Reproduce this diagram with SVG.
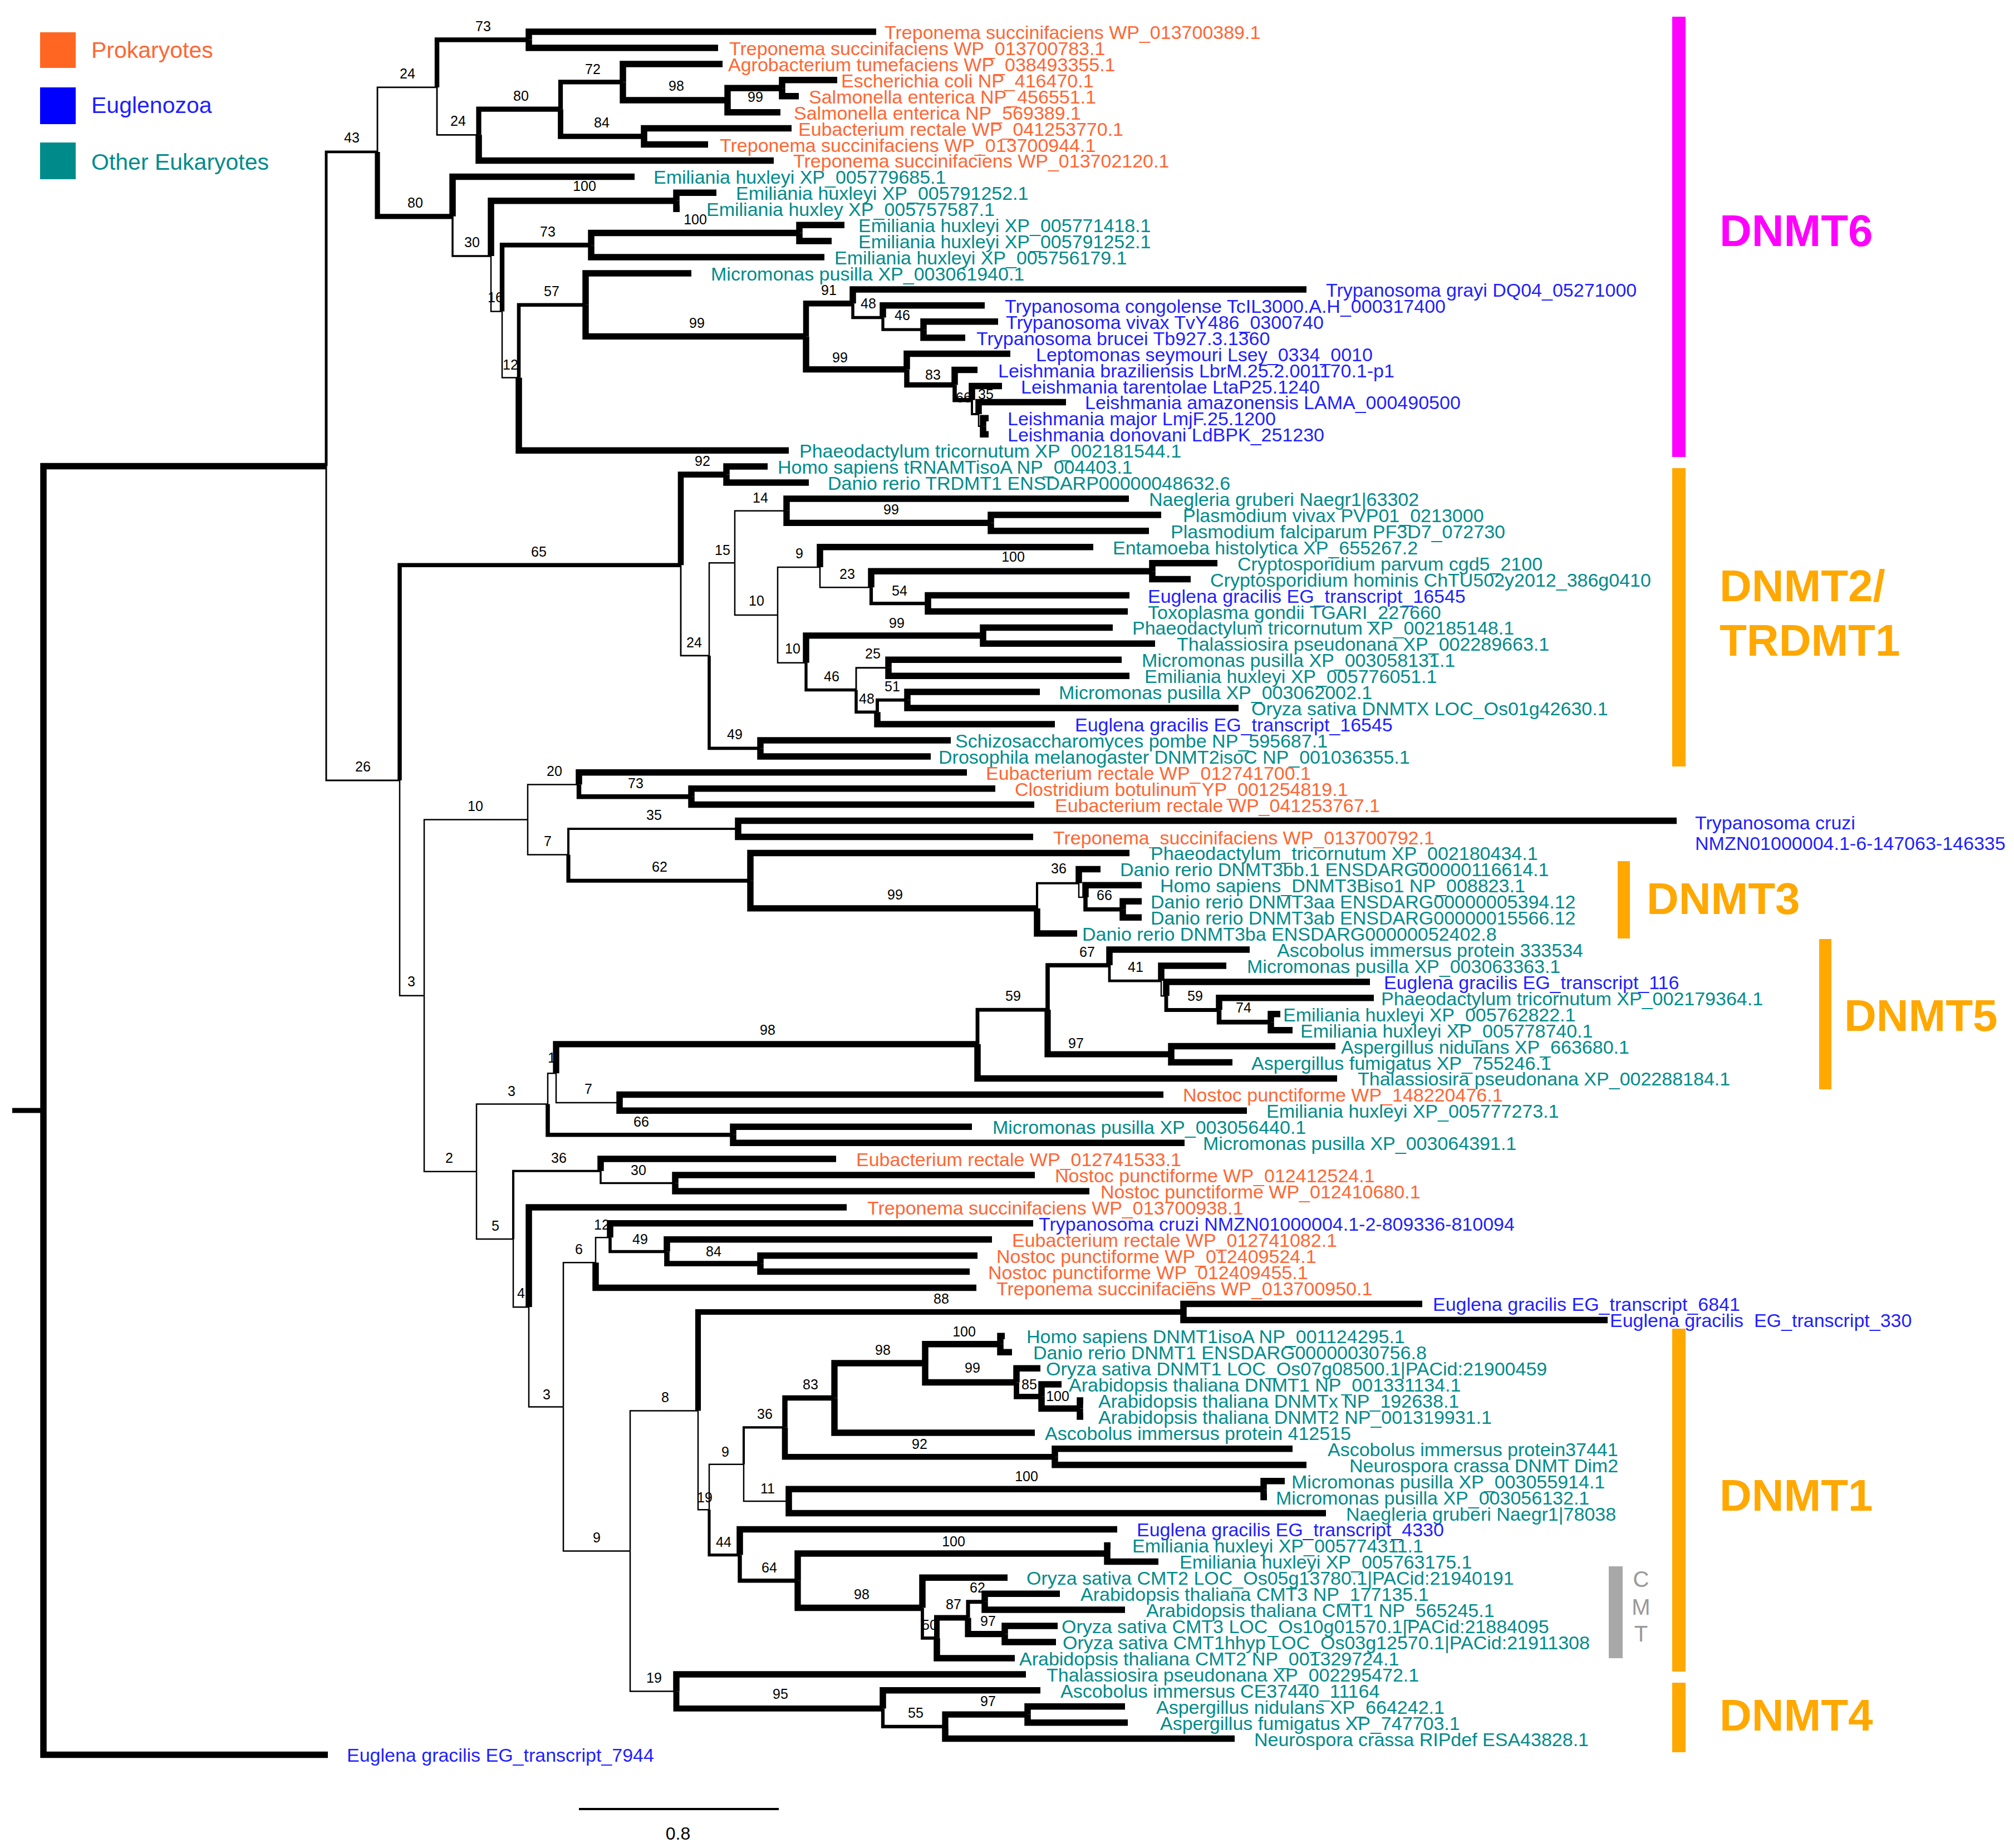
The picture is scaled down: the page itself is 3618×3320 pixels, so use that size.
<svg xmlns="http://www.w3.org/2000/svg" width="3618" height="3320" viewBox="0 0 3618 3320">
<style>
.br{fill:none;stroke:#000;stroke-linejoin:miter}
.t{stroke-width:11.5}
text{font-family:"Liberation Sans",Arial,sans-serif}
.lf{font-size:34px}
.o{fill:#FF6633}.b{fill:#1F1FFF}.e{fill:#008B8B}
.bs{font-size:25px;text-anchor:middle;fill:#000}
.cl{font-size:80px;font-weight:bold}
.lg{font-size:41px}
</style>
<rect width="3618" height="3320" fill="#fff"/>
<g id="legend">
<rect x="72" y="58" width="64" height="64" fill="#FF6622"/>
<rect x="72" y="157" width="64" height="66" fill="#0000FF"/>
<rect x="72" y="256" width="64" height="66" fill="#008B8B"/>
<text class="lg o" x="164" y="104">Prokaryotes</text>
<text class="lg b" x="164" y="203">Euglenozoa</text>
<text class="lg e" x="164" y="305">Other Eukaryotes</text>
</g>
<g id="clades">
<rect x="3004" y="30" width="24" height="791" fill="#FF00FF"/>
<text class="cl" x="3089" y="442" fill="#FF00FF">DNMT6</text>
<rect x="3004" y="841" width="24" height="536" fill="#FFA800"/>
<text class="cl" x="3089" y="1080" fill="#FFA800">DNMT2/</text>
<text class="cl" x="3089" y="1178" fill="#FFA800">TRDMT1</text>
<rect x="2906" y="1547" width="22" height="139" fill="#FFA800"/>
<text class="cl" x="2958" y="1642" fill="#FFA800">DNMT3</text>
<rect x="3268" y="1687" width="22" height="270" fill="#FFA800"/>
<text class="cl" x="3313" y="1852" fill="#FFA800">DNMT5</text>
<rect x="3004" y="2387" width="24" height="616" fill="#FFA800"/>
<text class="cl" x="3089" y="2714" fill="#FFA800">DNMT1</text>
<rect x="3004" y="3023" width="24" height="125" fill="#FFA800"/>
<text class="cl" x="3089" y="3109" fill="#FFA800">DNMT4</text>
<rect x="2890" y="2814" width="25" height="165" fill="#A8A8A8"/>
<text x="2948" y="2851" font-size="40" text-anchor="middle" fill="#999">C</text>
<text x="2948" y="2901" font-size="40" text-anchor="middle" fill="#999">M</text>
<text x="2948" y="2949" font-size="40" text-anchor="middle" fill="#999">T</text>
</g>
<g id="scale">
<path d="M1040 3250H1399" stroke="#000" stroke-width="4"/>
<text x="1218" y="3305" font-size="32" text-anchor="middle">0.8</text>
</g>
<g transform="translate(0,-3)">
<g id="branches">
<path class="br" stroke-width="9" d="M22 1998H78"/>
<path class="br t" d="M78 1998V840.5H586"/>
<path class="br t" d="M78 1998V3155.5H589"/>
<path class="br" stroke-width="4.9" d="M586 840.5V275.9H678"/>
<path class="br" stroke-width="3" d="M586 840.5V1405H718"/>
<path class="br" stroke-width="2.8" d="M678 275.9V159.9H785"/>
<path class="br" stroke-width="9.2" d="M678 275.9V391.8H813"/>
<path class="br" stroke-width="8.4" d="M785 159.9V74.5H950"/>
<path class="br" stroke-width="2.8" d="M785 159.9V245.3H860"/>
<path class="br t" d="M950 74.5V60H1574"/>
<path class="br t" d="M950 74.5V88.9H1290"/>
<path class="br" stroke-width="9.2" d="M860 245.3V199.2H1007"/>
<path class="br t" d="M860 245.3V291.4H1390"/>
<path class="br" stroke-width="8.3" d="M1007 199.2V150.4H1119"/>
<path class="br" stroke-width="9.7" d="M1007 199.2V248H1157"/>
<path class="br t" d="M1119 150.4V117.9H1298"/>
<path class="br" stroke-width="11.3" d="M1119 150.4V183H1307"/>
<path class="br" stroke-width="11.4" d="M1307 183V161.3H1405"/>
<path class="br t" d="M1307 183V204.7H1402"/>
<path class="br t" d="M1405 161.3V146.8H1504"/>
<path class="br t" d="M1405 161.3V175.7H1435"/>
<path class="br t" d="M1157 248V233.6H1422"/>
<path class="br t" d="M1157 248V262.5H1272"/>
<path class="br t" d="M813 391.8V320.4H1140"/>
<path class="br" stroke-width="3.5" d="M813 391.8V463.1H882"/>
<path class="br" stroke-width="11.5" d="M882 463.1V363.8H1215"/>
<path class="br" stroke-width="2.5" d="M882 463.1V562.4H902"/>
<path class="br t" d="M1215 363.8V349.3H1287"/>
<path class="br t" d="M1215 363.8V378.2H1221"/>
<path class="br" stroke-width="8.4" d="M902 562.4V443.3H1062"/>
<path class="br" stroke-width="2.5" d="M902 562.4V681.5H932"/>
<path class="br" stroke-width="11.5" d="M1062 443.3V421.6H1436"/>
<path class="br t" d="M1062 443.3V465H1481"/>
<path class="br t" d="M1436 421.6V407.2H1517"/>
<path class="br t" d="M1436 421.6V436.1H1494"/>
<path class="br" stroke-width="6.6" d="M932 681.5V550.7H1052"/>
<path class="br t" d="M932 681.5V812.2H1417"/>
<path class="br t" d="M1052 550.7V494H1242"/>
<path class="br" stroke-width="11.4" d="M1052 550.7V607.4H1448"/>
<path class="br" stroke-width="10.5" d="M1448 607.4V548.2H1532"/>
<path class="br" stroke-width="11.4" d="M1448 607.4V666.6H1629"/>
<path class="br t" d="M1532 548.2V522.9H2347"/>
<path class="br" stroke-width="5.5" d="M1532 548.2V573.5H1586"/>
<path class="br t" d="M1586 573.5V551.8H1769"/>
<path class="br" stroke-width="5.3" d="M1586 573.5V595.2H1659"/>
<path class="br t" d="M1659 595.2V580.7H1793"/>
<path class="br t" d="M1659 595.2V609.7H1734"/>
<path class="br t" d="M1629 666.6V638.6H1815"/>
<path class="br" stroke-width="9.5" d="M1629 666.6V694.6H1715"/>
<path class="br t" d="M1715 694.6V667.5H1756"/>
<path class="br" stroke-width="7.6" d="M1715 694.6V721.8H1746"/>
<path class="br t" d="M1746 721.8V696.5H1800"/>
<path class="br" stroke-width="4" d="M1746 721.8V747.1H1758"/>
<path class="br t" d="M1758 747.1V725.4H1915"/>
<path class="br" stroke-width="2.5" d="M1758 747.1V768.8H1766"/>
<path class="br t" d="M1766 768.8V754.3H1776"/>
<path class="br t" d="M1766 768.8V783.3H1776"/>
<path class="br" stroke-width="7.5" d="M718 1405V1018.3H1223"/>
<path class="br" stroke-width="2.5" d="M718 1405V1791.7H762"/>
<path class="br" stroke-width="10.6" d="M1223 1018.3V855.6H1305"/>
<path class="br" stroke-width="2.8" d="M1223 1018.3V1180.9H1274"/>
<path class="br t" d="M1305 855.6V841.1H1379"/>
<path class="br t" d="M1305 855.6V870H1453"/>
<path class="br" stroke-width="2.5" d="M1274 1180.9V1014.3H1320"/>
<path class="br" stroke-width="5.6" d="M1274 1180.9V1347.4H1366"/>
<path class="br" stroke-width="2.5" d="M1320 1014.3V920.7H1413"/>
<path class="br" stroke-width="2.5" d="M1320 1014.3V1107.9H1397"/>
<path class="br t" d="M1413 920.7V899H2028"/>
<path class="br" stroke-width="11.4" d="M1413 920.7V942.4H1780"/>
<path class="br t" d="M1780 942.4V927.9H2086"/>
<path class="br t" d="M1780 942.4V956.8H2064"/>
<path class="br" stroke-width="2.5" d="M1397 1107.9V1022H1473"/>
<path class="br" stroke-width="2.5" d="M1397 1107.9V1193.7H1448"/>
<path class="br t" d="M1473 1022V985.8H1964"/>
<path class="br" stroke-width="2.6" d="M1473 1022V1058.2H1565"/>
<path class="br" stroke-width="11.5" d="M1565 1058.2V1029.2H2070"/>
<path class="br" stroke-width="6.2" d="M1565 1058.2V1087.1H1667"/>
<path class="br t" d="M2070 1029.2V1014.7H2187"/>
<path class="br t" d="M2070 1029.2V1043.6H2139"/>
<path class="br t" d="M1667 1087.1V1072.6H2029"/>
<path class="br t" d="M1667 1087.1V1101.5H2026"/>
<path class="br" stroke-width="11.4" d="M1448 1193.7V1144.9H1766"/>
<path class="br" stroke-width="5.3" d="M1448 1193.7V1242.5H1538"/>
<path class="br t" d="M1766 1144.9V1130.4H1999"/>
<path class="br t" d="M1766 1144.9V1159.3H2075"/>
<path class="br" stroke-width="2.9" d="M1538 1242.5V1202.7H1596"/>
<path class="br" stroke-width="5.5" d="M1538 1242.5V1282.3H1576"/>
<path class="br t" d="M1596 1202.7V1188.3H2015"/>
<path class="br t" d="M1596 1202.7V1217.2H2029"/>
<path class="br" stroke-width="5.9" d="M1576 1282.3V1260.6H1630"/>
<path class="br t" d="M1576 1282.3V1304H1895"/>
<path class="br t" d="M1630 1260.6V1246.1H1868"/>
<path class="br t" d="M1630 1260.6V1275.1H2225"/>
<path class="br t" d="M1366 1347.4V1332.9H1708"/>
<path class="br t" d="M1366 1347.4V1361.9H1672"/>
<path class="br" stroke-width="2.5" d="M762 1791.7V1475.6H948"/>
<path class="br" stroke-width="2.5" d="M762 1791.7V2107.8H856"/>
<path class="br" stroke-width="2.5" d="M948 1475.6V1412.5H1040"/>
<path class="br" stroke-width="2.5" d="M948 1475.6V1538.6H1021"/>
<path class="br t" d="M1040 1412.5V1390.8H1737"/>
<path class="br" stroke-width="8.4" d="M1040 1412.5V1434.2H1242"/>
<path class="br t" d="M1242 1434.2V1419.7H1788"/>
<path class="br t" d="M1242 1434.2V1448.6H1858"/>
<path class="br" stroke-width="4" d="M1021 1538.6V1492H1326"/>
<path class="br" stroke-width="7.1" d="M1021 1538.6V1585.2H1348"/>
<path class="br t" d="M1326 1492V1477.6H3012"/>
<path class="br t" d="M1326 1492V1506.5H1856"/>
<path class="br t" d="M1348 1585.2V1535.4H2029"/>
<path class="br" stroke-width="11.4" d="M1348 1585.2V1634.9H1863"/>
<path class="br" stroke-width="4.1" d="M1863 1634.9V1589.7H1938"/>
<path class="br t" d="M1863 1634.9V1680.1H1935"/>
<path class="br t" d="M1938 1589.7V1564.4H1977"/>
<path class="br" stroke-width="2.5" d="M1938 1589.7V1615H1950"/>
<path class="br t" d="M1950 1615V1593.3H2051"/>
<path class="br" stroke-width="7.6" d="M1950 1615V1636.7H2017"/>
<path class="br t" d="M2017 1636.7V1622.2H2051"/>
<path class="br t" d="M2017 1636.7V1651.2H2051"/>
<path class="br" stroke-width="2.5" d="M856 2107.8V1986.5H984"/>
<path class="br" stroke-width="2.5" d="M856 2107.8V2229H922"/>
<path class="br" stroke-width="2.5" d="M984 1986.5V1931.3H999"/>
<path class="br" stroke-width="7.6" d="M984 1986.5V2041.7H1317"/>
<path class="br" stroke-width="11.3" d="M999 1931.3V1878.8H1756"/>
<path class="br" stroke-width="2.5" d="M999 1931.3V1983.9H1113"/>
<path class="br" stroke-width="6.8" d="M1756 1878.8V1817.1H1882"/>
<path class="br t" d="M1756 1878.8V1940.5H2402"/>
<path class="br" stroke-width="7.7" d="M1882 1817.1V1737.1H1993"/>
<path class="br" stroke-width="11.2" d="M1882 1817.1V1897H2104"/>
<path class="br t" d="M1993 1737.1V1709H2245"/>
<path class="br" stroke-width="4.7" d="M1993 1737.1V1765.1H2086"/>
<path class="br t" d="M2086 1765.1V1737.9H2203"/>
<path class="br" stroke-width="2.5" d="M2086 1765.1V1792.2H2095"/>
<path class="br t" d="M2095 1792.2V1766.9H2461"/>
<path class="br" stroke-width="6.8" d="M2095 1792.2V1817.5H2190"/>
<path class="br t" d="M2190 1817.5V1795.8H2468"/>
<path class="br" stroke-width="8.5" d="M2190 1817.5V1839.2H2283"/>
<path class="br t" d="M2283 1839.2V1824.7H2300"/>
<path class="br t" d="M2283 1839.2V1853.7H2322"/>
<path class="br t" d="M2104 1897V1882.6H2399"/>
<path class="br t" d="M2104 1897V1911.5H2214"/>
<path class="br t" d="M1113 1983.9V1969.4H2090"/>
<path class="br t" d="M1113 1983.9V1998.3H2240"/>
<path class="br t" d="M1317 2041.7V2027.2H1746"/>
<path class="br t" d="M1317 2041.7V2056.2H2128"/>
<path class="br" stroke-width="4.1" d="M922 2229V2106.8H1079"/>
<path class="br" stroke-width="2.5" d="M922 2229V2351.2H950"/>
<path class="br t" d="M1079 2106.8V2085.1H1502"/>
<path class="br" stroke-width="3.5" d="M1079 2106.8V2128.5H1213"/>
<path class="br t" d="M1213 2128.5V2114H1859"/>
<path class="br t" d="M1213 2128.5V2143H1957"/>
<path class="br t" d="M950 2351.2V2171.9H1521"/>
<path class="br" stroke-width="2.5" d="M950 2351.2V2530.5H1012"/>
<path class="br" stroke-width="2.5" d="M1012 2530.5V2271.3H1070"/>
<path class="br" stroke-width="2.5" d="M1012 2530.5V2789.6H1132"/>
<path class="br" stroke-width="2.5" d="M1070 2271.3V2226.2H1096"/>
<path class="br t" d="M1070 2271.3V2316.5H1754"/>
<path class="br t" d="M1096 2226.2V2200.8H1856"/>
<path class="br" stroke-width="5.6" d="M1096 2226.2V2251.5H1198"/>
<path class="br t" d="M1198 2251.5V2229.8H1782"/>
<path class="br" stroke-width="9.7" d="M1198 2251.5V2273.2H1366"/>
<path class="br t" d="M1366 2273.2V2258.7H1756"/>
<path class="br t" d="M1366 2273.2V2287.6H1742"/>
<path class="br" stroke-width="2.5" d="M1132 2789.6V2537.6H1254"/>
<path class="br" stroke-width="2.5" d="M1132 2789.6V3041.6H1215"/>
<path class="br" stroke-width="10.1" d="M1254 2537.6V2360H2126"/>
<path class="br" stroke-width="2.5" d="M1254 2537.6V2715.2H1274"/>
<path class="br t" d="M2126 2360V2345.5H2555"/>
<path class="br t" d="M2126 2360V2374.4H2888"/>
<path class="br" stroke-width="2.5" d="M1274 2715.2V2633.7H1336"/>
<path class="br" stroke-width="5.1" d="M1274 2715.2V2796.6H1329"/>
<path class="br" stroke-width="4.1" d="M1336 2633.7V2567.4H1410"/>
<path class="br" stroke-width="2.5" d="M1336 2633.7V2699.9H1417"/>
<path class="br" stroke-width="9.5" d="M1410 2567.4V2514.5H1499"/>
<path class="br" stroke-width="10.6" d="M1410 2567.4V2620.3H1895"/>
<path class="br" stroke-width="11.3" d="M1499 2514.5V2452H1662"/>
<path class="br t" d="M1499 2514.5V2576.9H1859"/>
<path class="br" stroke-width="11.5" d="M1662 2452V2417.8H1797"/>
<path class="br" stroke-width="11.4" d="M1662 2452V2486.5H1826"/>
<path class="br t" d="M1797 2417.8V2403.3H1805"/>
<path class="br t" d="M1797 2417.8V2432.3H1818"/>
<path class="br t" d="M1826 2486.5V2461.2H1869"/>
<path class="br" stroke-width="9.8" d="M1826 2486.5V2511.8H1871"/>
<path class="br t" d="M1871 2511.8V2490.1H1907"/>
<path class="br" stroke-width="11.5" d="M1871 2511.8V2533.6H1940"/>
<path class="br t" d="M1940 2533.6V2519.1H1946"/>
<path class="br t" d="M1940 2533.6V2548H1946"/>
<path class="br t" d="M1895 2620.3V2605.8H2322"/>
<path class="br t" d="M1895 2620.3V2634.8H2347"/>
<path class="br" stroke-width="11.5" d="M1417 2699.9V2678.2H2270"/>
<path class="br t" d="M1417 2699.9V2721.6H2382"/>
<path class="br t" d="M2270 2678.2V2663.7H2308"/>
<path class="br t" d="M2270 2678.2V2692.6H2276"/>
<path class="br t" d="M1329 2796.6V2750.5H2007"/>
<path class="br" stroke-width="7.4" d="M1329 2796.6V2842.7H1433"/>
<path class="br" stroke-width="11.5" d="M1433 2842.7V2793.9H1989"/>
<path class="br" stroke-width="11.3" d="M1433 2842.7V2891.5H1657"/>
<path class="br t" d="M1989 2793.9V2779.4H1995"/>
<path class="br t" d="M1989 2793.9V2808.4H2081"/>
<path class="br t" d="M1657 2891.5V2837.3H1810"/>
<path class="br" stroke-width="5.8" d="M1657 2891.5V2945.8H1683"/>
<path class="br" stroke-width="10" d="M1683 2945.8V2909.6H1739"/>
<path class="br t" d="M1683 2945.8V2981.9H1823"/>
<path class="br" stroke-width="7.1" d="M1739 2909.6V2880.7H1769"/>
<path class="br" stroke-width="11.2" d="M1739 2909.6V2938.6H1805"/>
<path class="br t" d="M1769 2880.7V2866.2H1904"/>
<path class="br t" d="M1769 2880.7V2895.1H2021"/>
<path class="br t" d="M1805 2938.6V2924.1H1900"/>
<path class="br t" d="M1805 2938.6V2953H1897"/>
<path class="br t" d="M1215 3041.6V3010.9H1843"/>
<path class="br" stroke-width="10.9" d="M1215 3041.6V3072.4H1586"/>
<path class="br t" d="M1586 3072.4V3039.8H1869"/>
<path class="br" stroke-width="6.3" d="M1586 3072.4V3104.9H1698"/>
<path class="br" stroke-width="11.2" d="M1698 3104.9V3083.2H1846"/>
<path class="br t" d="M1698 3104.9V3126.6H2218"/>
<path class="br t" d="M1846 3083.2V3068.7H2021"/>
<path class="br t" d="M1846 3083.2V3097.7H2026"/>
</g>
<g id="leaves">
<g id="L0"><text class="lf o" x="1589" y="73">Treponema succinifaciens WP_013700389.1</text></g>
<g id="L1"><text class="lf o" x="1310" y="102">Treponema succinifaciens WP_013700783.1</text></g>
<g id="L2"><text class="lf o" x="1308" y="131">Agrobacterium tumefaciens WP_038493355.1</text></g>
<g id="L3"><text class="lf o" x="1511" y="160">Escherichia coli NP_416470.1</text></g>
<g id="L4"><text class="lf o" x="1453" y="189">Salmonella enterica NP_456551.1</text></g>
<g id="L5"><text class="lf o" x="1426" y="218">Salmonella enterica NP_569389.1</text></g>
<g id="L6"><text class="lf o" x="1434" y="247">Eubacterium rectale WP_041253770.1</text></g>
<g id="L7"><text class="lf o" x="1293" y="276">Treponema succinifaciens WP_013700944.1</text></g>
<g id="L8"><text class="lf o" x="1425" y="304">Treponema succinifaciens WP_013702120.1</text></g>
<g id="L9"><text class="lf e" x="1174" y="333">Emiliania huxleyi XP_005779685.1</text></g>
<g id="L10"><text class="lf e" x="1322" y="362">Emiliania huxleyi XP_005791252.1</text></g>
<g id="L11"><text class="lf e" x="1269" y="391">Emiliania huxley XP_005757587.1</text></g>
<g id="L12"><text class="lf e" x="1542" y="420">Emiliania huxleyi XP_005771418.1</text></g>
<g id="L13"><text class="lf e" x="1542" y="449">Emiliania huxleyi XP_005791252.1</text></g>
<g id="L14"><text class="lf e" x="1499" y="478">Emiliania huxleyi XP_005756179.1</text></g>
<g id="L15"><text class="lf e" x="1277" y="507">Micromonas pusilla XP_003061940.1</text></g>
<g id="L16"><text class="lf b" x="2382" y="536">Trypanosoma grayi DQ04_05271000</text></g>
<g id="L17"><text class="lf b" x="1805" y="565">Trypanosoma congolense TcIL3000.A.H_000317400</text></g>
<g id="L18"><text class="lf b" x="1807" y="594">Trypanosoma vivax TvY486_0300740</text></g>
<g id="L19"><text class="lf b" x="1754" y="623">Trypanosoma brucei Tb927.3.1360</text></g>
<g id="L20"><text class="lf b" x="1861" y="652">Leptomonas seymouri Lsey_0334_0010</text></g>
<g id="L21"><text class="lf b" x="1793" y="681">Leishmania braziliensis LbrM.25.2.001170.1-p1</text></g>
<g id="L22"><text class="lf b" x="1834" y="710">Leishmania tarentolae LtaP25.1240</text></g>
<g id="L23"><text class="lf b" x="1949" y="738">Leishmania amazonensis LAMA_000490500</text></g>
<g id="L24"><text class="lf b" x="1810" y="767">Leishmania major LmjF.25.1200</text></g>
<g id="L25"><text class="lf b" x="1810" y="796">Leishmania donovani LdBPK_251230</text></g>
<g id="L26"><text class="lf e" x="1436" y="825">Phaeodactylum tricornutum XP_002181544.1</text></g>
<g id="L27"><text class="lf e" x="1397" y="854">Homo sapiens tRNAMTisoA NP_004403.1</text></g>
<g id="L28"><text class="lf e" x="1487" y="883">Danio rerio TRDMT1 ENSDARP00000048632.6</text></g>
<g id="L29"><text class="lf e" x="2064" y="912">Naegleria gruberi Naegr1|63302</text></g>
<g id="L30"><text class="lf e" x="2125" y="941">Plasmodium vivax PVP01_0213000</text></g>
<g id="L31"><text class="lf e" x="2103" y="970">Plasmodium falciparum PF3D7_072730</text></g>
<g id="L32"><text class="lf e" x="1999" y="999">Entamoeba histolytica XP_655267.2</text></g>
<g id="L33"><text class="lf e" x="2223" y="1028">Cryptosporidium parvum cgd5_2100</text></g>
<g id="L34"><text class="lf e" x="2174" y="1057">Cryptosporidium hominis ChTU502y2012_386g0410</text></g>
<g id="L35"><text class="lf b" x="2062" y="1086">Euglena gracilis EG_transcript_16545</text></g>
<g id="L36"><text class="lf e" x="2062" y="1115">Toxoplasma gondii TGARI_227660</text></g>
<g id="L37"><text class="lf e" x="2034" y="1143">Phaeodactylum tricornutum XP_002185148.1</text></g>
<g id="L38"><text class="lf e" x="2114" y="1172">Thalassiosira pseudonana XP_002289663.1</text></g>
<g id="L39"><text class="lf e" x="2051" y="1201">Micromonas pusilla XP_003058131.1</text></g>
<g id="L40"><text class="lf e" x="2056" y="1230">Emiliania huxleyi XP_005776051.1</text></g>
<g id="L41"><text class="lf e" x="1902" y="1259">Micromonas pusilla XP_003062002.1</text></g>
<g id="L42"><text class="lf e" x="2248" y="1288">Oryza sativa DNMTX LOC_Os01g42630.1</text></g>
<g id="L43"><text class="lf b" x="1931" y="1317">Euglena gracilis EG_transcript_16545</text></g>
<g id="L44"><text class="lf e" x="1716" y="1346">Schizosaccharomyces pombe NP_595687.1</text></g>
<g id="L45"><text class="lf e" x="1686" y="1375">Drosophila melanogaster DNMT2isoC NP_001036355.1</text></g>
<g id="L46"><text class="lf o" x="1771" y="1404">Eubacterium rectale WP_012741700.1</text></g>
<g id="L47"><text class="lf o" x="1823" y="1433">Clostridium botulinum YP_001254819.1</text></g>
<g id="L48"><text class="lf o" x="1895" y="1462">Eubacterium rectale WP_041253767.1</text></g>
<g id="L49"><text class="lf b" x="3045" y="1493">Trypanosoma cruzi<tspan x="3045" y="1530">NMZN01000004.1-6-147063-146335</tspan></text></g>
<g id="L50"><text class="lf o" x="1892" y="1520">Treponema_succinifaciens WP_013700792.1</text></g>
<g id="L51"><text class="lf e" x="2067" y="1548">Phaeodactylum_tricornutum XP_002180434.1</text></g>
<g id="L52"><text class="lf e" x="2012" y="1577">Danio rerio DNMT3bb.1 ENSDARG00000116614.1</text></g>
<g id="L53"><text class="lf e" x="2084" y="1606">Homo sapiens_DNMT3Biso1 NP_008823.1</text></g>
<g id="L54"><text class="lf e" x="2067" y="1635">Danio rerio DNMT3aa ENSDARG00000005394.12</text></g>
<g id="L55"><text class="lf e" x="2067" y="1664">Danio rerio DNMT3ab ENSDARG00000015566.12</text></g>
<g id="L56"><text class="lf e" x="1944" y="1693">Danio rerio DNMT3ba ENSDARG00000052402.8</text></g>
<g id="L57"><text class="lf e" x="2294" y="1722">Ascobolus immersus protein 333534</text></g>
<g id="L58"><text class="lf e" x="2240" y="1751">Micromonas pusilla XP_003063363.1</text></g>
<g id="L59"><text class="lf b" x="2486" y="1780">Euglena gracilis EG_transcript_116</text></g>
<g id="L60"><text class="lf e" x="2481" y="1809">Phaeodactylum tricornutum XP_002179364.1</text></g>
<g id="L61"><text class="lf e" x="2305" y="1838">Emiliania huxleyi XP_005762822.1</text></g>
<g id="L62"><text class="lf e" x="2336" y="1867">Emiliania huxleyi XP_005778740.1</text></g>
<g id="L63"><text class="lf e" x="2409" y="1896">Aspergillus nidulans XP_663680.1</text></g>
<g id="L64"><text class="lf e" x="2248" y="1925">Aspergillus fumigatus XP_755246.1</text></g>
<g id="L65"><text class="lf e" x="2439" y="1953">Thalassiosira pseudonana XP_002288184.1</text></g>
<g id="L66"><text class="lf o" x="2125" y="1982">Nostoc punctiforme WP_148220476.1</text></g>
<g id="L67"><text class="lf e" x="2275" y="2011">Emiliania huxleyi XP_005777273.1</text></g>
<g id="L68"><text class="lf e" x="1783" y="2040">Micromonas pusilla XP_003056440.1</text></g>
<g id="L69"><text class="lf e" x="2161" y="2069">Micromonas pusilla XP_003064391.1</text></g>
<g id="L70"><text class="lf o" x="1538" y="2098">Eubacterium rectale WP_012741533.1</text></g>
<g id="L71"><text class="lf o" x="1895" y="2127">Nostoc punctiforme WP_012412524.1</text></g>
<g id="L72"><text class="lf o" x="1977" y="2156">Nostoc punctiforme WP_012410680.1</text></g>
<g id="L73"><text class="lf o" x="1558" y="2185">Treponema succinifaciens WP_013700938.1</text></g>
<g id="L74"><text class="lf b" x="1866" y="2214">Trypanosoma cruzi NMZN01000004.1-2-809336-810094</text></g>
<g id="L75"><text class="lf o" x="1818" y="2243">Eubacterium rectale WP_012741082.1</text></g>
<g id="L76"><text class="lf o" x="1790" y="2272">Nostoc punctiforme WP_012409524.1</text></g>
<g id="L77"><text class="lf o" x="1775" y="2301">Nostoc punctiforme WP_012409455.1</text></g>
<g id="L78"><text class="lf o" x="1790" y="2330">Treponema succinifaciens WP_013700950.1</text></g>
<g id="L79"><text class="lf b" x="2574" y="2358">Euglena gracilis EG_transcript_6841</text></g>
<g id="L80"><text class="lf b" x="2892" y="2387" xml:space="preserve">Euglena gracilis  EG_transcript_330</text></g>
<g id="L81"><text class="lf e" x="1844" y="2416">Homo sapiens DNMT1isoA NP_001124295.1</text></g>
<g id="L82"><text class="lf e" x="1856" y="2445">Danio rerio DNMT1 ENSDARG00000030756.8</text></g>
<g id="L83"><text class="lf e" x="1879" y="2474">Oryza sativa DNMT1 LOC_Os07g08500.1|PACid:21900459</text></g>
<g id="L84"><text class="lf e" x="1920" y="2503">Arabidopsis thaliana DNMT1 NP_001331134.1</text></g>
<g id="L85"><text class="lf e" x="1973" y="2532">Arabidopsis thaliana DNMTx NP_192638.1</text></g>
<g id="L86"><text class="lf e" x="1973" y="2561">Arabidopsis thaliana DNMT2 NP_001319931.1</text></g>
<g id="L87"><text class="lf e" x="1877" y="2590">Ascobolus immersus protein 412515</text></g>
<g id="L88"><text class="lf e" x="2385" y="2619">Ascobolus immersus protein37441</text></g>
<g id="L89"><text class="lf e" x="2424" y="2648">Neurospora crassa DNMT Dim2</text></g>
<g id="L90"><text class="lf e" x="2320" y="2677">Micromonas pusilla XP_003055914.1</text></g>
<g id="L91"><text class="lf e" x="2292" y="2706">Micromonas pusilla XP_003056132.1</text></g>
<g id="L92"><text class="lf e" x="2418" y="2735">Naegleria gruberi Naegr1|78038</text></g>
<g id="L93"><text class="lf b" x="2042" y="2763">Euglena gracilis EG_transcript_4330</text></g>
<g id="L94"><text class="lf e" x="2034" y="2792">Emiliania huxleyi XP_005774311.1</text></g>
<g id="L95"><text class="lf e" x="2119" y="2821">Emiliania huxleyi XP_005763175.1</text></g>
<g id="L96"><text class="lf e" x="1844" y="2850">Oryza sativa CMT2 LOC_Os05g13780.1|PACid:21940191</text></g>
<g id="L97"><text class="lf e" x="1941" y="2879">Arabidopsis thaliana CMT3 NP_177135.1</text></g>
<g id="L98"><text class="lf e" x="2059" y="2908">Arabidopsis thaliana CMT1 NP_565245.1</text></g>
<g id="L99"><text class="lf e" x="1907" y="2937">Oryza sativa CMT3 LOC_Os10g01570.1|PACid:21884095</text></g>
<g id="L100"><text class="lf e" x="1909" y="2966">Oryza sativa CMT1hhyp LOC_Os03g12570.1|PACid:21911308</text></g>
<g id="L101"><text class="lf e" x="1831" y="2995">Arabidopsis thaliana CMT2 NP_001329724.1</text></g>
<g id="L102"><text class="lf e" x="1880" y="3024">Thalassiosira pseudonana XP_002295472.1</text></g>
<g id="L103"><text class="lf e" x="1905" y="3053">Ascobolus immersus CE37440_11164</text></g>
<g id="L104"><text class="lf e" x="2077" y="3082">Aspergillus nidulans XP_664242.1</text></g>
<g id="L105"><text class="lf e" x="2084" y="3111">Aspergillus fumigatus XP_747703.1</text></g>
<g id="L106"><text class="lf e" x="2253" y="3140">Neurospora crassa RIPdef ESA43828.1</text></g>
<g id="L107"><text class="lf b" x="623" y="3168">Euglena gracilis EG_transcript_7944</text></g>
</g>
</g>
<g id="support">
<g id="N43"><text class="bs" x="632" y="256">43</text></g>
<g id="N24a"><text class="bs" x="732" y="141">24</text></g>
<g id="N73a"><text class="bs" x="868" y="56">73</text></g>
<g id="N24b"><text class="bs" x="823" y="226">24</text></g>
<g id="N80a"><text class="bs" x="936" y="181">80</text></g>
<g id="N72"><text class="bs" x="1065" y="133">72</text></g>
<g id="N98a"><text class="bs" x="1215" y="163">98</text></g>
<g id="N99a"><text class="bs" x="1357" y="183">99</text></g>
<g id="N84a"><text class="bs" x="1081" y="229">84</text></g>
<g id="N80b"><text class="bs" x="746" y="373">80</text></g>
<g id="N30a"><text class="bs" x="848" y="444">30</text></g>
<g id="N100a"><text class="bs" x="1050" y="343">100</text></g>
<g id="N16"><text class="bs" x="890" y="543">16</text></g>
<g id="N73b"><text class="bs" x="984" y="425">73</text></g>
<g id="N100b"><text class="bs" x="1249" y="403">100</text></g>
<g id="N12a"><text class="bs" x="917" y="664">12</text></g>
<g id="N57"><text class="bs" x="991" y="532">57</text></g>
<g id="N99p"><text class="bs" x="1252" y="589">99</text></g>
<g id="N91"><text class="bs" x="1489" y="530">91</text></g>
<g id="N48a"><text class="bs" x="1560" y="554">48</text></g>
<g id="N46a"><text class="bs" x="1621" y="575">46</text></g>
<g id="N99q"><text class="bs" x="1509" y="651">99</text></g>
<g id="N83a"><text class="bs" x="1676" y="682">83</text></g>
<g id="N66a"><text class="bs" x="1731" y="723">66</text></g>
<g id="N35a"><text class="bs" x="1771" y="717">35</text></g>
<g id="N26"><text class="bs" x="652" y="1386">26</text></g>
<g id="N65"><text class="bs" x="968" y="1000">65</text></g>
<g id="N92a"><text class="bs" x="1262" y="837">92</text></g>
<g id="N24c"><text class="bs" x="1247" y="1163">24</text></g>
<g id="N15"><text class="bs" x="1298" y="997">15</text></g>
<g id="N14"><text class="bs" x="1366" y="903">14</text></g>
<g id="N99c"><text class="bs" x="1601" y="924">99</text></g>
<g id="N10a"><text class="bs" x="1359" y="1088">10</text></g>
<g id="N9a"><text class="bs" x="1436" y="1003">9</text></g>
<g id="N23"><text class="bs" x="1522" y="1040">23</text></g>
<g id="N100c"><text class="bs" x="1820" y="1009">100</text></g>
<g id="N54"><text class="bs" x="1616" y="1070">54</text></g>
<g id="N10b"><text class="bs" x="1424" y="1174">10</text></g>
<g id="N99d"><text class="bs" x="1611" y="1128">99</text></g>
<g id="N46c"><text class="bs" x="1494" y="1224">46</text></g>
<g id="N25"><text class="bs" x="1568" y="1183">25</text></g>
<g id="N48c"><text class="bs" x="1557" y="1264">48</text></g>
<g id="N51"><text class="bs" x="1603" y="1242">51</text></g>
<g id="N49a"><text class="bs" x="1320" y="1328">49</text></g>
<g id="N3a"><text class="bs" x="739" y="1772">3</text></g>
<g id="N10d"><text class="bs" x="854" y="1457">10</text></g>
<g id="N20"><text class="bs" x="996" y="1394">20</text></g>
<g id="N73c"><text class="bs" x="1142" y="1416">73</text></g>
<g id="N7a"><text class="bs" x="984" y="1520">7</text></g>
<g id="N35b"><text class="bs" x="1175" y="1473">35</text></g>
<g id="N62"><text class="bs" x="1185" y="1566">62</text></g>
<g id="N99e"><text class="bs" x="1608" y="1616">99</text></g>
<g id="N36a"><text class="bs" x="1902" y="1569">36</text></g>
<g id="N66b"><text class="bs" x="1984" y="1617">66</text></g>
<g id="N2"><text class="bs" x="807" y="2089">2</text></g>
<g id="N3b"><text class="bs" x="919" y="1969">3</text></g>
<g id="N1"><text class="bs" x="991" y="1909">1</text></g>
<g id="N98f"><text class="bs" x="1379" y="1859">98</text></g>
<g id="N59a"><text class="bs" x="1820" y="1798">59</text></g>
<g id="N67"><text class="bs" x="1953" y="1719">67</text></g>
<g id="N41"><text class="bs" x="2040" y="1746">41</text></g>
<g id="N59b"><text class="bs" x="2147" y="1798">59</text></g>
<g id="N74"><text class="bs" x="2234" y="1819">74</text></g>
<g id="N97a"><text class="bs" x="1933" y="1883">97</text></g>
<g id="N7b"><text class="bs" x="1057" y="1965">7</text></g>
<g id="N66c"><text class="bs" x="1152" y="2024">66</text></g>
<g id="N5"><text class="bs" x="890" y="2211">5</text></g>
<g id="N36d"><text class="bs" x="1004" y="2089">36</text></g>
<g id="N30b"><text class="bs" x="1147" y="2111">30</text></g>
<g id="N4"><text class="bs" x="936" y="2332">4</text></g>
<g id="N3c"><text class="bs" x="982" y="2514">3</text></g>
<g id="N6"><text class="bs" x="1040" y="2253">6</text></g>
<g id="N12b"><text class="bs" x="1081" y="2209">12</text></g>
<g id="N49b"><text class="bs" x="1150" y="2235">49</text></g>
<g id="N84b"><text class="bs" x="1282" y="2257">84</text></g>
<g id="N9b"><text class="bs" x="1072" y="2771">9</text></g>
<g id="N8"><text class="bs" x="1195" y="2519">8</text></g>
<g id="N88"><text class="bs" x="1691" y="2342">88</text></g>
<g id="N19b"><text class="bs" x="1266" y="2699">19</text></g>
<g id="N9c"><text class="bs" x="1303" y="2617">9</text></g>
<g id="N36e"><text class="bs" x="1374" y="2549">36</text></g>
<g id="N83b"><text class="bs" x="1456" y="2496">83</text></g>
<g id="N98h"><text class="bs" x="1586" y="2434">98</text></g>
<g id="N100f"><text class="bs" x="1732" y="2401">100</text></g>
<g id="N99h"><text class="bs" x="1747" y="2466">99</text></g>
<g id="N85"><text class="bs" x="1849" y="2496">85</text></g>
<g id="N100g"><text class="bs" x="1900" y="2517">100</text></g>
<g id="N92b"><text class="bs" x="1652" y="2603">92</text></g>
<g id="N11"><text class="bs" x="1379" y="2683">11</text></g>
<g id="N100e"><text class="bs" x="1844" y="2661">100</text></g>
<g id="N44"><text class="bs" x="1300" y="2779">44</text></g>
<g id="N64"><text class="bs" x="1382" y="2825">64</text></g>
<g id="N100h"><text class="bs" x="1713" y="2778">100</text></g>
<g id="N98i"><text class="bs" x="1548" y="2873">98</text></g>
<g id="N50"><text class="bs" x="1670" y="2928">50</text></g>
<g id="N87"><text class="bs" x="1713" y="2891">87</text></g>
<g id="N62b"><text class="bs" x="1756" y="2861">62</text></g>
<g id="N97j"><text class="bs" x="1775" y="2921">97</text></g>
<g id="N19c"><text class="bs" x="1175" y="3023">19</text></g>
<g id="N95"><text class="bs" x="1402" y="3052">95</text></g>
<g id="N55"><text class="bs" x="1645" y="3086">55</text></g>
<g id="N97g"><text class="bs" x="1775" y="3065">97</text></g>
</g>
</svg>
